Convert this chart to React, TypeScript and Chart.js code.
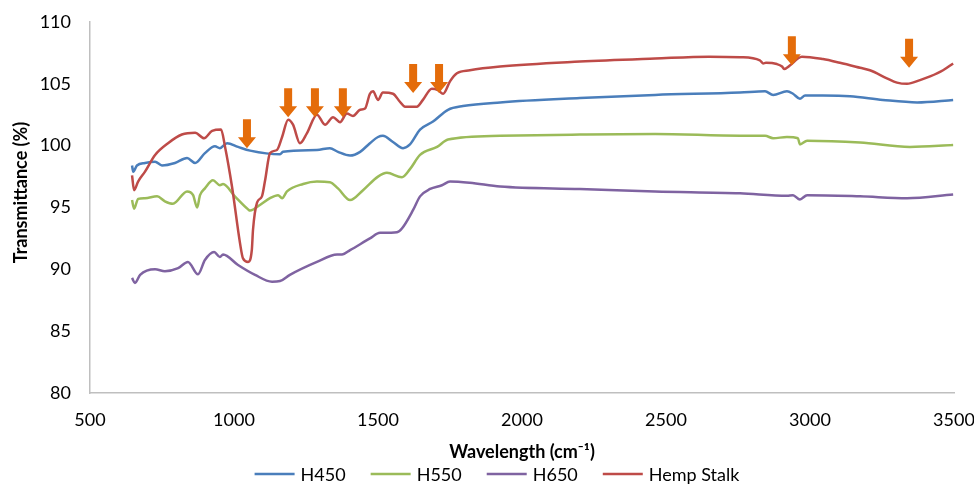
import React, { useEffect, useRef } from 'react';
import { Chart, registerables } from 'chart.js';

Chart.register(...registerables);

// ---- data ----
const xTickStep = 500;
const xMin = 500;
const xMax = 3500;
const yMin = 80;
const yMax = 110;
const yTickStep = 5;

const seriesLabels = ['H450', 'H550', 'H650', 'Hemp Stalk'];
const seriesColors = ['#4A7EBB', '#9BBB59', '#7F63A1', '#BE4B48'];

const h450X = [646, 650, 663, 691, 726, 750, 795, 837, 865, 899, 934, 951, 976, 1014, 1056, 1160, 1170, 1288, 1333, 1361, 1403, 1438, 1472, 1500, 1517, 1552, 1587, 1611, 1646, 1691, 1743, 1795, 1924, 2201, 2462, 2757, 2844, 2872, 2920, 2941, 2965, 2983, 3045, 3139, 3253, 3372, 3497];
const h450Y = [98.4, 97.9, 98.4, 98.6, 98.7, 98.4, 98.6, 99.0, 98.6, 99.4, 99.95, 99.8, 100.2, 99.9, 99.6, 99.3, 99.5, 99.65, 99.8, 99.5, 99.2, 99.5, 100.2, 100.7, 100.8, 100.3, 99.8, 100.1, 101.3, 101.95, 102.9, 103.2, 103.5, 103.85, 104.1, 104.3, 104.4, 104.1, 104.4, 104.2, 103.8, 104.05, 104.05, 104.0, 103.7, 103.5, 103.7];

const h550X = [646, 653, 667, 691, 733, 760, 788, 837, 858, 872, 882, 899, 927, 951, 962, 1003, 1049, 1056, 1090, 1125, 1153, 1167, 1184, 1240, 1288, 1333, 1361, 1403, 1448, 1500, 1531, 1583, 1611, 1646, 1705, 1743, 1924, 2201, 2462, 2757, 2844, 2872, 2920, 2958, 2965, 2990, 3174, 3347, 3497];
const h550Y = [95.6, 94.9, 95.7, 95.75, 95.9, 95.5, 95.3, 96.3, 96.0, 95.0, 96.0, 96.55, 97.2, 96.8, 96.9, 95.9, 94.85, 94.75, 95.2, 95.75, 96.0, 95.75, 96.3, 96.9, 97.1, 97.05, 96.55, 95.6, 96.4, 97.5, 97.8, 97.45, 98.1, 99.25, 99.9, 100.5, 100.8, 100.9, 100.95, 100.8, 100.8, 100.6, 100.7, 100.6, 100.1, 100.4, 100.25, 99.9, 100.05];

const h650X = [646, 656, 674, 726, 760, 806, 840, 875, 899, 931, 951, 962, 1014, 1073, 1132, 1160, 1194, 1288, 1358, 1375, 1403, 1472, 1507, 1517, 1566, 1583, 1622, 1646, 1681, 1722, 1750, 1819, 1924, 2201, 2462, 2757, 2920, 2941, 2965, 2990, 3174, 3337, 3497];
const h650Y = [89.3, 88.9, 89.55, 90.0, 89.85, 90.1, 90.6, 89.6, 90.75, 91.4, 91.0, 91.2, 90.35, 89.55, 89.0, 89.05, 89.55, 90.6, 91.2, 91.2, 91.55, 92.5, 92.95, 92.95, 93.0, 93.3, 94.8, 95.9, 96.5, 96.8, 97.1, 97.0, 96.7, 96.5, 96.3, 96.15, 95.95, 96.0, 95.65, 96.0, 95.9, 95.75, 96.05];

const hempX = [646, 653, 667, 691, 726, 771, 819, 865, 896, 924, 955, 969, 993, 1021, 1031, 1049, 1062, 1066, 1080, 1097, 1108, 1125, 1149, 1167, 1188, 1205, 1229, 1253, 1288, 1316, 1344, 1368, 1392, 1413, 1438, 1455, 1472, 1483, 1500, 1517, 1552, 1576, 1594, 1635, 1656, 1687, 1708, 1726, 1750, 1774, 1819, 1924, 2201, 2462, 2650, 2757, 2826, 2837, 2847, 2885, 2903, 2910, 2931, 2958, 2972, 3045, 3104, 3174, 3208, 3267, 3302, 3337, 3382, 3417, 3462, 3497];
const hempY = [97.6, 96.4, 97.1, 97.9, 99.25, 100.2, 100.9, 101.05, 100.6, 101.2, 101.3, 99.9, 96.7, 92.1, 90.9, 90.6, 91.6, 93.2, 95.4, 95.9, 97.2, 99.4, 99.65, 100.7, 102.1, 101.7, 100.2, 101.0, 102.5, 101.7, 102.3, 101.9, 102.6, 102.4, 102.9, 103.0, 104.2, 104.4, 103.7, 104.3, 104.2, 103.55, 103.15, 103.15, 103.7, 104.6, 104.5, 104.2, 105.2, 105.85, 106.1, 106.4, 106.8, 107.05, 107.2, 107.15, 106.9, 106.65, 106.7, 106.6, 106.4, 106.2, 106.5, 107.05, 107.2, 107.0, 106.7, 106.3, 106.1, 105.45, 105.1, 105.0, 105.3, 105.6, 106.1, 106.65];

// arrow annotations (x position, y value at arrow tip)
const arrowX = [1045, 1188, 1281, 1378, 1622, 1712, 2937, 3344];
const arrowTipY = [99.8, 102.3, 102.3, 102.3, 104.25, 104.25, 106.5, 106.3];

const xTitle = 'Wavelength (cm\u207B\u00B9)';
const yTitle = 'Transmittance (%)';

const FONT = 'Lato, "Open Sans", sans-serif';

const arrowPlugin = {
  id: 'arrows',
  afterDatasetsDraw(chart: any) {
    const { ctx, scales } = chart;
    const xs = scales.x;
    const ys = scales.y;
    ctx.save();
    ctx.fillStyle = '#E46C0A';
    for (let i = 0; i < arrowX.length; i++) {
      const px = xs.getPixelForValue(arrowX[i]);
      const py = ys.getPixelForValue(arrowTipY[i]);
      const total = 29;
      const headH = 11;
      const shaftW = 4;
      const headW = 9;
      ctx.beginPath();
      ctx.moveTo(px - shaftW, py - total);
      ctx.lineTo(px + shaftW, py - total);
      ctx.lineTo(px + shaftW, py - headH);
      ctx.lineTo(px + headW, py - headH);
      ctx.lineTo(px, py);
      ctx.lineTo(px - headW, py - headH);
      ctx.lineTo(px - shaftW, py - headH);
      ctx.closePath();
      ctx.fill();
    }
    ctx.restore();
  },
};

const decorPlugin = {
  id: 'decor',
  afterDraw(chart: any) {
    const { ctx, chartArea } = chart;
    ctx.save();
    // y axis title
    ctx.font = 'bold 18px ' + FONT;
    ctx.fillStyle = '#000';
    ctx.textAlign = 'center';
    ctx.textBaseline = 'middle';
    ctx.translate(chartArea.left - 69, (chartArea.top + chartArea.bottom) / 2 - 15);
    ctx.rotate(-Math.PI / 2);
    ctx.fillText(yTitle, 0, 0);
    ctx.restore();

    // legend
    ctx.save();
    ctx.font = '18px ' + FONT;
    ctx.textBaseline = 'middle';
    ctx.textAlign = 'left';
    const lineLen = 40;
    const textGap = 6;
    const itemGap = 25;
    const ds = chart.data.datasets;
    const widths = ds.map((d: any) => lineLen + textGap + ctx.measureText(d.label).width);
    const total = widths.reduce((a: number, b: number) => a + b, 0) + itemGap * (ds.length - 1);
    let x = 497 - total / 2;
    const y = 474;
    ds.forEach((d: any, i: number) => {
      ctx.strokeStyle = d.borderColor;
      ctx.lineWidth = 2.5;
      ctx.beginPath();
      ctx.moveTo(x, y);
      ctx.lineTo(x + lineLen, y);
      ctx.stroke();
      ctx.fillStyle = '#000';
      ctx.fillText(d.label, x + lineLen + textGap, y + 1);
      x += widths[i] + itemGap;
    });
    ctx.restore();
  },
};

export default function App() {
  const canvasRef = useRef<HTMLCanvasElement | null>(null);

  useEffect(() => {
    if (!canvasRef.current) return;
    const xs = [h450X, h550X, h650X, hempX];
    const ysArr = [h450Y, h550Y, h650Y, hempY];
    const orders = [3, 2, 1, 0];
    const datasets = seriesLabels.map((label, i) => ({
      label,
      data: xs[i].map((x, j) => ({ x, y: ysArr[i][j] })),
      borderColor: seriesColors[i],
      backgroundColor: seriesColors[i],
      borderWidth: 2.5,
      pointRadius: 0,
      cubicInterpolationMode: 'monotone' as const,
      fill: false,
      order: orders[i],
    }));

    const chart = new Chart(canvasRef.current, {
      type: 'line',
      data: { datasets },
      options: {
        animation: false,
        responsive: true,
        maintainAspectRatio: false,
        font: { family: FONT },
        layout: { padding: { top: 22, right: 20, bottom: 21, left: 0 } },
        plugins: {
          legend: { display: false },
          tooltip: { enabled: false },
        },
        scales: {
          x: {
            type: 'linear',
            min: xMin,
            max: xMax,
            grid: { display: false, drawTicks: false },
            border: { display: true, color: '#BFBFBF', width: 1.5 },
            ticks: {
              stepSize: xTickStep,
              padding: 16,
              color: '#000',
              font: { family: FONT, size: 18 },
              maxRotation: 0,
              callback: (v: any) => String(v),
            },
            title: {
              display: true,
              text: xTitle,
              color: '#000',
              font: { family: FONT, size: 18, weight: 'bold' },
              padding: { top: 0, bottom: 0 },
            },
            afterFit: (scale: any) => {
              scale.height = 484 - 393 - 21;
              scale.paddingLeft = 0;
              scale.paddingRight = 0;
            },
          },
          y: {
            type: 'linear',
            min: yMin,
            max: yMax,
            grid: { display: false, drawTicks: false },
            border: { display: true, color: '#BFBFBF', width: 1.5 },
            ticks: {
              stepSize: yTickStep,
              padding: 19,
              color: '#000',
              font: { family: FONT, size: 18 },
              callback: (v: any) => String(v),
            },
            afterFit: (scale: any) => {
              scale.width = 90;
              scale.paddingTop = 0;
              scale.paddingBottom = 0;
            },
          },
        },
      },
      plugins: [arrowPlugin, decorPlugin],
    });
    return () => chart.destroy();
  }, []);

  return (
    <div style={{ position: 'absolute', left: 0, top: 0, width: 974, height: 484, background: '#fff' }}>
      <canvas ref={canvasRef} />
    </div>
  );
}
